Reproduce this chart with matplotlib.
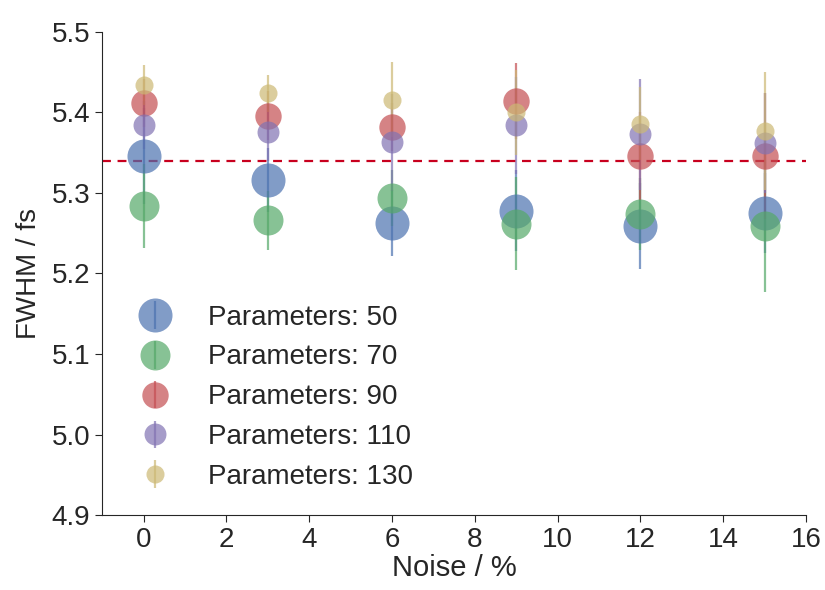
#!/usr/bin/env python3

'''FWHM versus noise level for different parameter counts.'''

import matplotlib
matplotlib.use('Agg')
import matplotlib.pyplot as plt
import seaborn as sns


NOISE = [0, 3, 6, 9, 12, 15]
PARAMS = [50, 70, 90, 110, 130]

FWHM_50 = [5.346, 5.316, 5.263, 5.278, 5.259, 5.275]
FWHM_70 = [5.284, 5.266, 5.294, 5.262, 5.274, 5.259]
FWHM_90 = [5.412, 5.396, 5.382, 5.414, 5.346, 5.346]
FWHM_110 = [5.384, 5.376, 5.363, 5.384, 5.373, 5.362]
FWHM_130 = [5.434, 5.424, 5.416, 5.400, 5.386, 5.377]

ERR_50 = [0.060, 0.040, 0.041, 0.050, 0.053, 0.050]
ERR_70 = [0.052, 0.037, 0.035, 0.058, 0.045, 0.082]
ERR_90 = [0.030, 0.030, 0.030, 0.047, 0.055, 0.078]
ERR_110 = [0.030, 0.036, 0.060, 0.060, 0.069, 0.062]
ERR_130 = [0.025, 0.023, 0.047, 0.053, 0.045, 0.073]

REFERENCE_FWHM = 5.34

COLORS = ['#4C72B0', '#55A868', '#C44E52', '#8172B2', '#CCB974']
MARKER_SIZES = [24.5, 21.6, 19.0, 15.8, 13.0]
ALPHA = 0.7
LW = 1.6
FONT_SIZE = 20


def plot():
    '''Draw the errorbar series and save out.png.'''
    sns.set_style('ticks')
    plt.rcParams['font.family'] = ['Liberation Sans', 'DejaVu Sans']
    plt.rcParams['text.color'] = '.15'
    plt.rcParams['axes.labelcolor'] = '.15'
    plt.rcParams['xtick.color'] = '.15'
    plt.rcParams['ytick.color'] = '.15'

    fig, axis = plt.subplots(figsize=(8.25, 5.9), dpi=100)
    fig.subplots_adjust(left=0.124, right=0.977, top=0.946, bottom=0.127)

    values = [FWHM_50, FWHM_70, FWHM_90, FWHM_110, FWHM_130]
    errors = [ERR_50, ERR_70, ERR_90, ERR_110, ERR_130]
    for param, fwhm, err, color, size in zip(PARAMS, values, errors,
                                             COLORS, MARKER_SIZES):
        axis.errorbar(NOISE, fwhm, yerr=err, fmt='o', color=color,
                      markersize=size, markeredgewidth=0, elinewidth=LW,
                      capsize=0, alpha=ALPHA,
                      label='Parameters: {}'.format(param))

    axis.axhline(REFERENCE_FWHM, color='#c8001e', linestyle='--',
                 linewidth=1.6, dashes=(4, 3))

    axis.set_xlim(-1, 16)
    axis.set_ylim(4.9, 5.5)
    axis.set_xticks([0, 2, 4, 6, 8, 10, 12, 14, 16])
    axis.set_yticks([4.9, 5.0, 5.1, 5.2, 5.3, 5.4, 5.5])
    axis.tick_params(labelsize=FONT_SIZE, length=5)
    axis.set_xlabel('Noise / %', fontsize=21, labelpad=1)
    axis.set_ylabel('FWHM / fs', fontsize=FONT_SIZE, labelpad=7)
    sns.despine(ax=axis)

    axis.legend(loc='lower left', frameon=False, fontsize=FONT_SIZE,
                bbox_to_anchor=(0.0, 0.0), labelspacing=0.5,
                handletextpad=0.9)

    fig.savefig('out.png', dpi=100)


if __name__ == '__main__':
    plot()
